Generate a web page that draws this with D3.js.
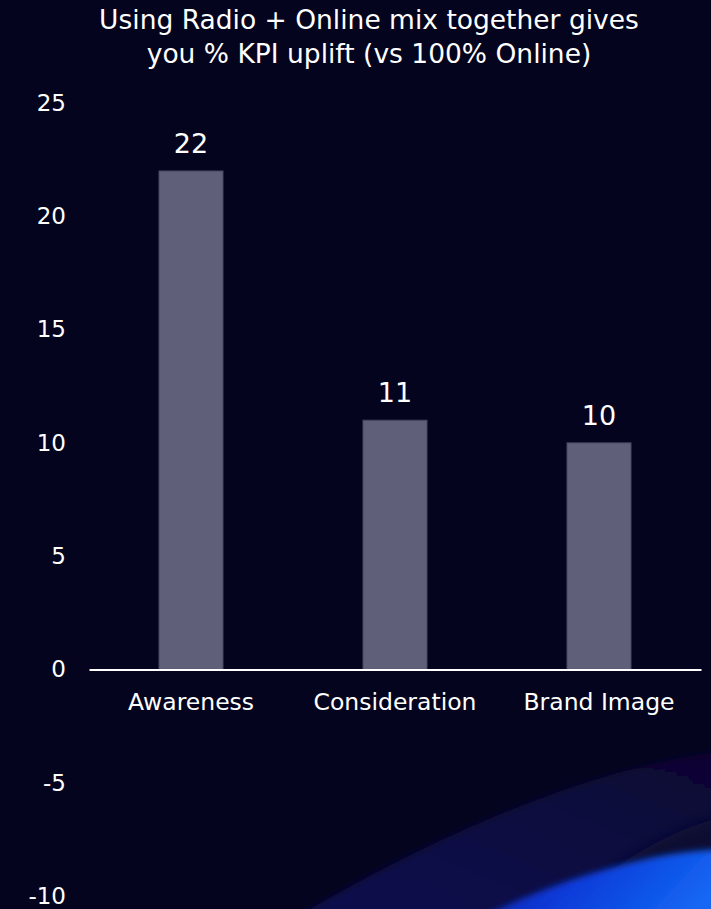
<!DOCTYPE html>
<html lang="en">
<head>
<meta charset="UTF-8">
<title>KPI uplift</title>
<style>
  * { margin: 0; padding: 0 }
  body { background: #04041e; }
</style>
</head>
<body>
<script src="https://d3js.org/d3.v7.min.js"></script>
<script>
  // data
  const categories = ['Awareness', 'Consideration', 'Brand Image'];
  const values = [22, 11, 10];
  const yTicks = [-10, -5, 0, 5, 10, 15, 20, 25];
  const titleLines = ['Using Radio + Online mix together gives', 'you % KPI uplift (vs 100% Online)'];

  const W = 711, H = 909;
  const font = '"DejaVu Sans", Verdana, sans-serif';
  const svg = d3.select('body').append('svg')
    .attr('width', W)
    .attr('height', H)
    .style('display', 'block')
    .style('background-color', '#04041e');

  // background swirl (bottom right), decoration only
  const defs = svg.append('defs');
  defs.append('filter').attr('id', 'soft')
    .attr('filterUnits', 'userSpaceOnUse')
    .attr('x', 0).attr('y', 600).attr('width', 800).attr('height', 400)
    .append('feGaussianBlur').attr('stdDeviation', 3);
  defs.append('filter').attr('id', 'soft2')
    .attr('filterUnits', 'userSpaceOnUse')
    .attr('x', 0).attr('y', 600).attr('width', 800).attr('height', 400)
    .append('feGaussianBlur').attr('stdDeviation', 7);
  const gBlue = defs.append('linearGradient').attr('id', 'blue-grad')
    .attr('x1', '0%').attr('y1', '0%').attr('x2', '100%').attr('y2', '30%');
  gBlue.append('stop').attr('offset', '0%').style('stop-color', '#0c1a9a');
  gBlue.append('stop').attr('offset', '45%').style('stop-color', '#0b3ad8');
  gBlue.append('stop').attr('offset', '100%').style('stop-color', '#1468f4');
  const gViolet = defs.append('linearGradient').attr('id', 'violet-grad')
    .attr('x1', '0%').attr('y1', '100%').attr('x2', '100%').attr('y2', '0%');
  gViolet.append('stop').attr('offset', '0%').style('stop-color', '#120a4e');
  gViolet.append('stop').attr('offset', '60%').style('stop-color', '#0e0840');
  gViolet.append('stop').attr('offset', '100%').style('stop-color', '#0b0630');

  const bg = svg.append('g');
  bg.append('path')
    .attr('d', 'M 300 915 Q 470 815 620 772 Q 680 756 730 750 L 730 930 L 300 930 Z')
    .style('fill', 'url(#violet-grad)')
    .attr('filter', 'url(#soft)');
  bg.append('path')
    .attr('d', 'M 560 915 Q 640 835 730 815 L 730 930 Z')
    .style('fill', '#0a0830')
    .attr('filter', 'url(#soft2)');
  bg.append('path')
    .attr('d', 'M 480 918 Q 560 878 650 858 Q 690 850 730 849 L 730 930 L 480 930 Z')
    .style('fill', 'url(#blue-grad)')
    .attr('filter', 'url(#soft)');

  // scales
  const x = d3.scaleBand().domain(categories).range([89, 701]).paddingInner(0.686).paddingOuter(0.343);
  const y = d3.scaleLinear().domain([-10, 25]).range([896, 103]);

  // title
  svg.append('text')
    .attr('x', 369)
    .attr('y', 29)
    .attr('text-anchor', 'middle')
    .style('font-family', font)
    .style('font-size', '26.5px')
    .style('fill', '#ffffff')
    .selectAll('tspan')
    .data(titleLines)
    .enter()
    .append('tspan')
    .attr('x', 369)
    .attr('dy', (d, i) => i === 0 ? 0 : 34)
    .text(d => d);

  // y axis labels
  const yAxis = d3.axisLeft(y).tickValues(yTicks).tickSize(0).tickPadding(0)
    .tickFormat(d => String(d));
  svg.append('g')
    .attr('transform', 'translate(66,0)')
    .call(yAxis)
    .call(g => g.select('.domain').remove())
    .selectAll('text')
    .style('font-family', font)
    .style('font-size', '23px')
    .style('fill', '#ffffff');

  // bars
  svg.selectAll('rect.bar')
    .data(values)
    .enter()
    .append('rect')
    .classed('bar', true)
    .attr('x', (d, i) => x(categories[i]))
    .attr('y', d => y(d))
    .attr('width', x.bandwidth())
    .attr('height', d => y(0) - y(d))
    .style('fill', '#5f5f7a')
    .style('stroke', '#45455f')
    .style('stroke-width', 1);

  // value labels
  svg.selectAll('text.val')
    .data(values)
    .enter()
    .append('text')
    .classed('val', true)
    .attr('x', (d, i) => x(categories[i]) + x.bandwidth() / 2)
    .attr('y', d => y(d) - 18)
    .attr('text-anchor', 'middle')
    .style('font-family', font)
    .style('font-size', '27px')
    .style('fill', '#ffffff')
    .text(d => d);

  // zero line + category labels
  const xAxis = d3.axisBottom(x).tickSize(0);
  svg.append('g')
    .attr('transform', 'translate(0,' + y(0) + ')')
    .call(xAxis)
    .call(g => g.select('.domain').style('stroke', '#ffffff').style('stroke-width', 2))
    .selectAll('text')
    .attr('y', 41)
    .attr('dy', 0)
    .style('font-family', font)
    .style('font-size', '23.5px')
    .style('fill', '#ffffff');
</script>
</body>
</html>
